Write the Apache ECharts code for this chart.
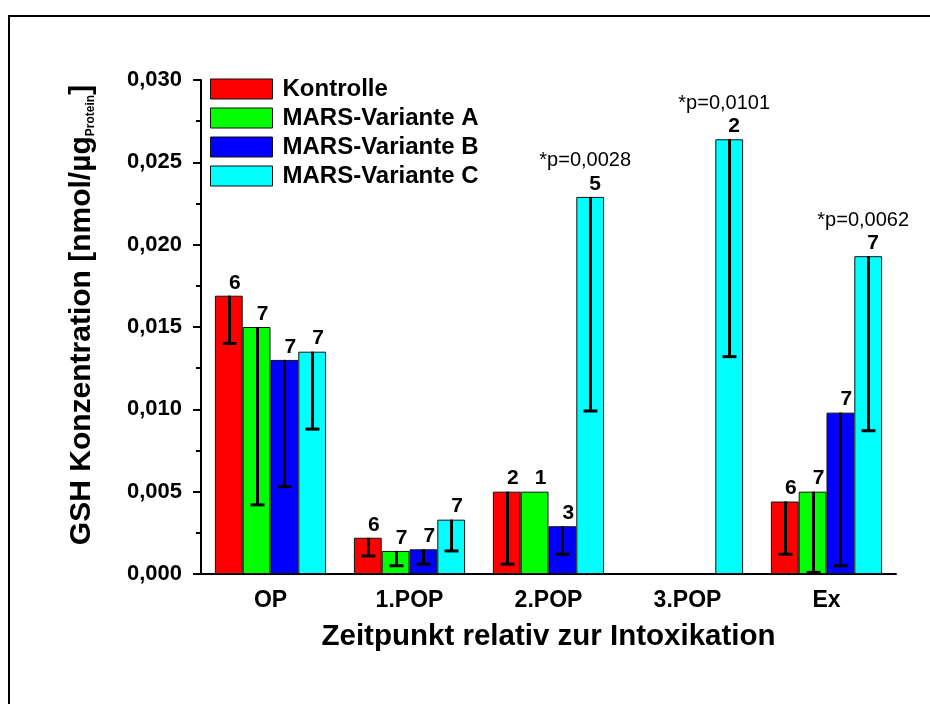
<!DOCTYPE html>
<html>
<head>
<meta charset="utf-8">
<script src="https://cdn.jsdelivr.net/npm/echarts@6/dist/echarts.min.js"></script>
<style>
  html, body { margin: 0; padding: 0; background: #fff; }
  #chart { width: 930px; height: 704px; }
</style>
</head>
<body>
<div id="chart"></div>
<script>
// Time points relative to intoxication
const categories = ['OP', '1.POP', '2.POP', '3.POP', 'Ex'];
const seriesNames = ['Kontrolle', 'MARS-Variante A', 'MARS-Variante B', 'MARS-Variante C'];

// GSH concentration means (nmol/µg protein)
const kontrolle = [0.0169, 0.0022, 0.0050, null, 0.0044];
const varianteA = [0.0150, 0.0014, 0.0050, null, 0.0050];
const varianteB = [0.0130, 0.0015, 0.0029, null, 0.0098];
const varianteC = [0.0135, 0.0033, 0.0229, 0.0264, 0.0193];

// Standard deviations (drawn downward only)
const kontrolleSD = [0.0029, 0.0011, 0.0044, null, 0.0032];
const varianteASD = [0.0108, 0.0009, null, null, 0.0049];
const varianteBSD = [0.0077, 0.0009, 0.0017, null, 0.0093];
const varianteCSD = [0.0047, 0.0019, 0.0130, 0.0132, 0.0106];

// Number of samples per bar
const kontrolleN = [6, 6, 2, null, 6];
const varianteAN = [7, 7, 1, null, 7];
const varianteBN = [7, 7, 3, null, 7];
const varianteCN = [7, 7, 5, 2, 7];

// Significance annotations for variant C
const varianteCP = [null, null, '*p=0,0028', '*p=0,0101', '*p=0,0062'];

// y axis ticks
const yMin = 0, yMax = 0.030, yStep = 0.005;

const FONT = '"Liberation Sans", Arial, Helvetica, sans-serif';
const colors = ['#ff0000', '#00ff00', '#0000ff', '#00ffff'];
const means = [kontrolle, varianteA, varianteB, varianteC];
const sds = [kontrolleSD, varianteASD, varianteBSD, varianteCSD];
const counts = [kontrolleN, varianteAN, varianteBN, varianteCN];
const pvals = [null, null, null, varianteCP];

const labelRich = {
  n: { fontFamily: FONT, fontSize: 21, fontWeight: 'bold', color: '#000', lineHeight: 22 },
  nn: { fontFamily: FONT, fontSize: 21, fontWeight: 'bold', color: '#000', lineHeight: 22, padding: [0, 0, 0, 20] },
  p: { fontFamily: FONT, fontSize: 20, fontWeight: 'normal', color: '#000', lineHeight: 24 }
};

function barData(s) {
  return means[s].map((v, i) => {
    if (v == null) return null;
    const n = counts[s][i];
    const p = pvals[s] ? pvals[s][i] : null;
    const item = { value: v };
    if (p) {
      item.label = { show: true, position: 'top', distance: 2, offset: [-5, 0],
        formatter: '{p|' + p + '}\n{nn|' + n + '}', rich: labelRich };
    } else if (n != null) {
      item.label = { show: true, position: 'top', distance: 2, offset: [6, 0],
        formatter: '{n|' + n + '}', rich: labelRich };
    }
    return item;
  });
}

function errorData(s) {
  const out = [];
  means[s].forEach((v, i) => {
    if (v != null && sds[s][i] != null) out.push([i, v, sds[s][i]]);
  });
  return out;
}

function errorRenderer(s) {
  return function (params, api) {
    const cat = api.value(0), m = api.value(1), sd = api.value(2);
    const top = api.coord([cat, m]);
    const bot = api.coord([cat, m - sd]);
    const band = api.size([1, 0])[0];
    const barW = band * 0.8 / 4;
    const x = Math.round(top[0] + (s - 1.5) * barW) + 0.5;
    const capHalf = barW / 4;
    const style = { stroke: '#000', lineWidth: 3 };
    return {
      type: 'group',
      children: [
        { type: 'line', shape: { x1: x, y1: top[1], x2: x, y2: bot[1] }, style: style },
        { type: 'line', shape: { x1: x - capHalf, y1: bot[1], x2: x + capHalf, y2: bot[1] }, style: style }
      ]
    };
  };
}

const series = [];
seriesNames.forEach((name, s) => {
  series.push({
    name: name,
    type: 'bar',
    xAxisIndex: 0,
    barGap: '0%',
    barCategoryGap: '20%',
    itemStyle: { color: colors[s], borderColor: '#111', borderWidth: 1 },
    emphasis: { disabled: true },
    data: barData(s),
    z: 2
  });
});
seriesNames.forEach((name, s) => {
  series.push({
    name: name + ' SD',
    type: 'custom',
    xAxisIndex: 0,
    renderItem: errorRenderer(s),
    encode: { x: 0, y: 1 },
    data: errorData(s),
    z: 5,
    silent: true
  });
});

const chart = echarts.init(document.getElementById('chart'), null, { renderer: 'canvas' });
chart.setOption({
  animation: false,
  backgroundColor: '#fff',
  grid: { left: 201, right: 34, top: 80, bottom: 130, containLabel: false },
  legend: {
    data: seriesNames,
    orient: 'vertical',
    left: 210,
    top: 77,
    padding: 0,
    itemWidth: 62,
    itemHeight: 20,
    itemGap: 5,
    icon: 'rect',
    selectedMode: false,
    itemStyle: { borderColor: '#111', borderWidth: 1 },
    textStyle: { fontFamily: FONT, fontSize: 24, fontWeight: 'bold', color: '#000', lineHeight: 20, padding: [0, 0, 0, 5] }
  },
  xAxis: [
    {
      type: 'category',
      data: categories,
      position: 'bottom',
      axisLine: { lineStyle: { color: '#000', width: 2 } },
      axisTick: { alignWithLabel: true, length: 8, lineStyle: { color: '#000', width: 2 } },
      axisLabel: { fontFamily: FONT, fontSize: 23, fontWeight: 'bold', color: '#000', margin: 15 },
      name: 'Zeitpunkt relativ zur Intoxikation',
      nameLocation: 'middle',
      nameGap: 48,
      nameTextStyle: { fontFamily: FONT, fontSize: 29.5, fontWeight: 'bold', color: '#000' }
    },
    {
      type: 'category',
      data: categories,
      position: 'bottom',
      axisLine: { show: false },
      axisTick: { length: 5, lineStyle: { color: '#000', width: 2 } },
      axisLabel: { show: false }
    }
  ],
  yAxis: {
    type: 'value',
    min: yMin,
    max: yMax,
    interval: yStep,
    axisLine: { show: true, lineStyle: { color: '#000', width: 2 } },
    axisTick: { show: true, length: 8, lineStyle: { color: '#000', width: 2 } },
    minorTick: { show: true, splitNumber: 2, length: 5, lineStyle: { color: '#000', width: 2 } },
    splitLine: { show: false },
    axisLabel: {
      fontFamily: FONT, fontSize: 22, fontWeight: 'bold', color: '#000', margin: 19,
      formatter: v => v.toFixed(3).replace('.', ',')
    },
    name: '{a|GSH Konzentration [nmol/µg}{s|Protein}{a|]}',
    nameLocation: 'middle',
    nameGap: 104,
    nameTextStyle: {
      padding: [0, 0, 0, 24],
      rich: {
        a: { fontFamily: FONT, fontSize: 30, fontWeight: 'bold', color: '#000', lineHeight: 30, verticalAlign: 'top' },
        s: { fontFamily: FONT, fontSize: 12, fontWeight: 'bold', color: '#000', lineHeight: 12, verticalAlign: 'bottom', padding: [26, 0, 0, 0] }
      }
    }
  },
  graphic: [
    {
      type: 'polyline',
      shape: { points: [[9, 704], [9, 16], [930, 16]] },
      style: { stroke: '#000', lineWidth: 2, fill: null },
      silent: true
    }
  ],
  series: series
});
</script>
</body>
</html>
